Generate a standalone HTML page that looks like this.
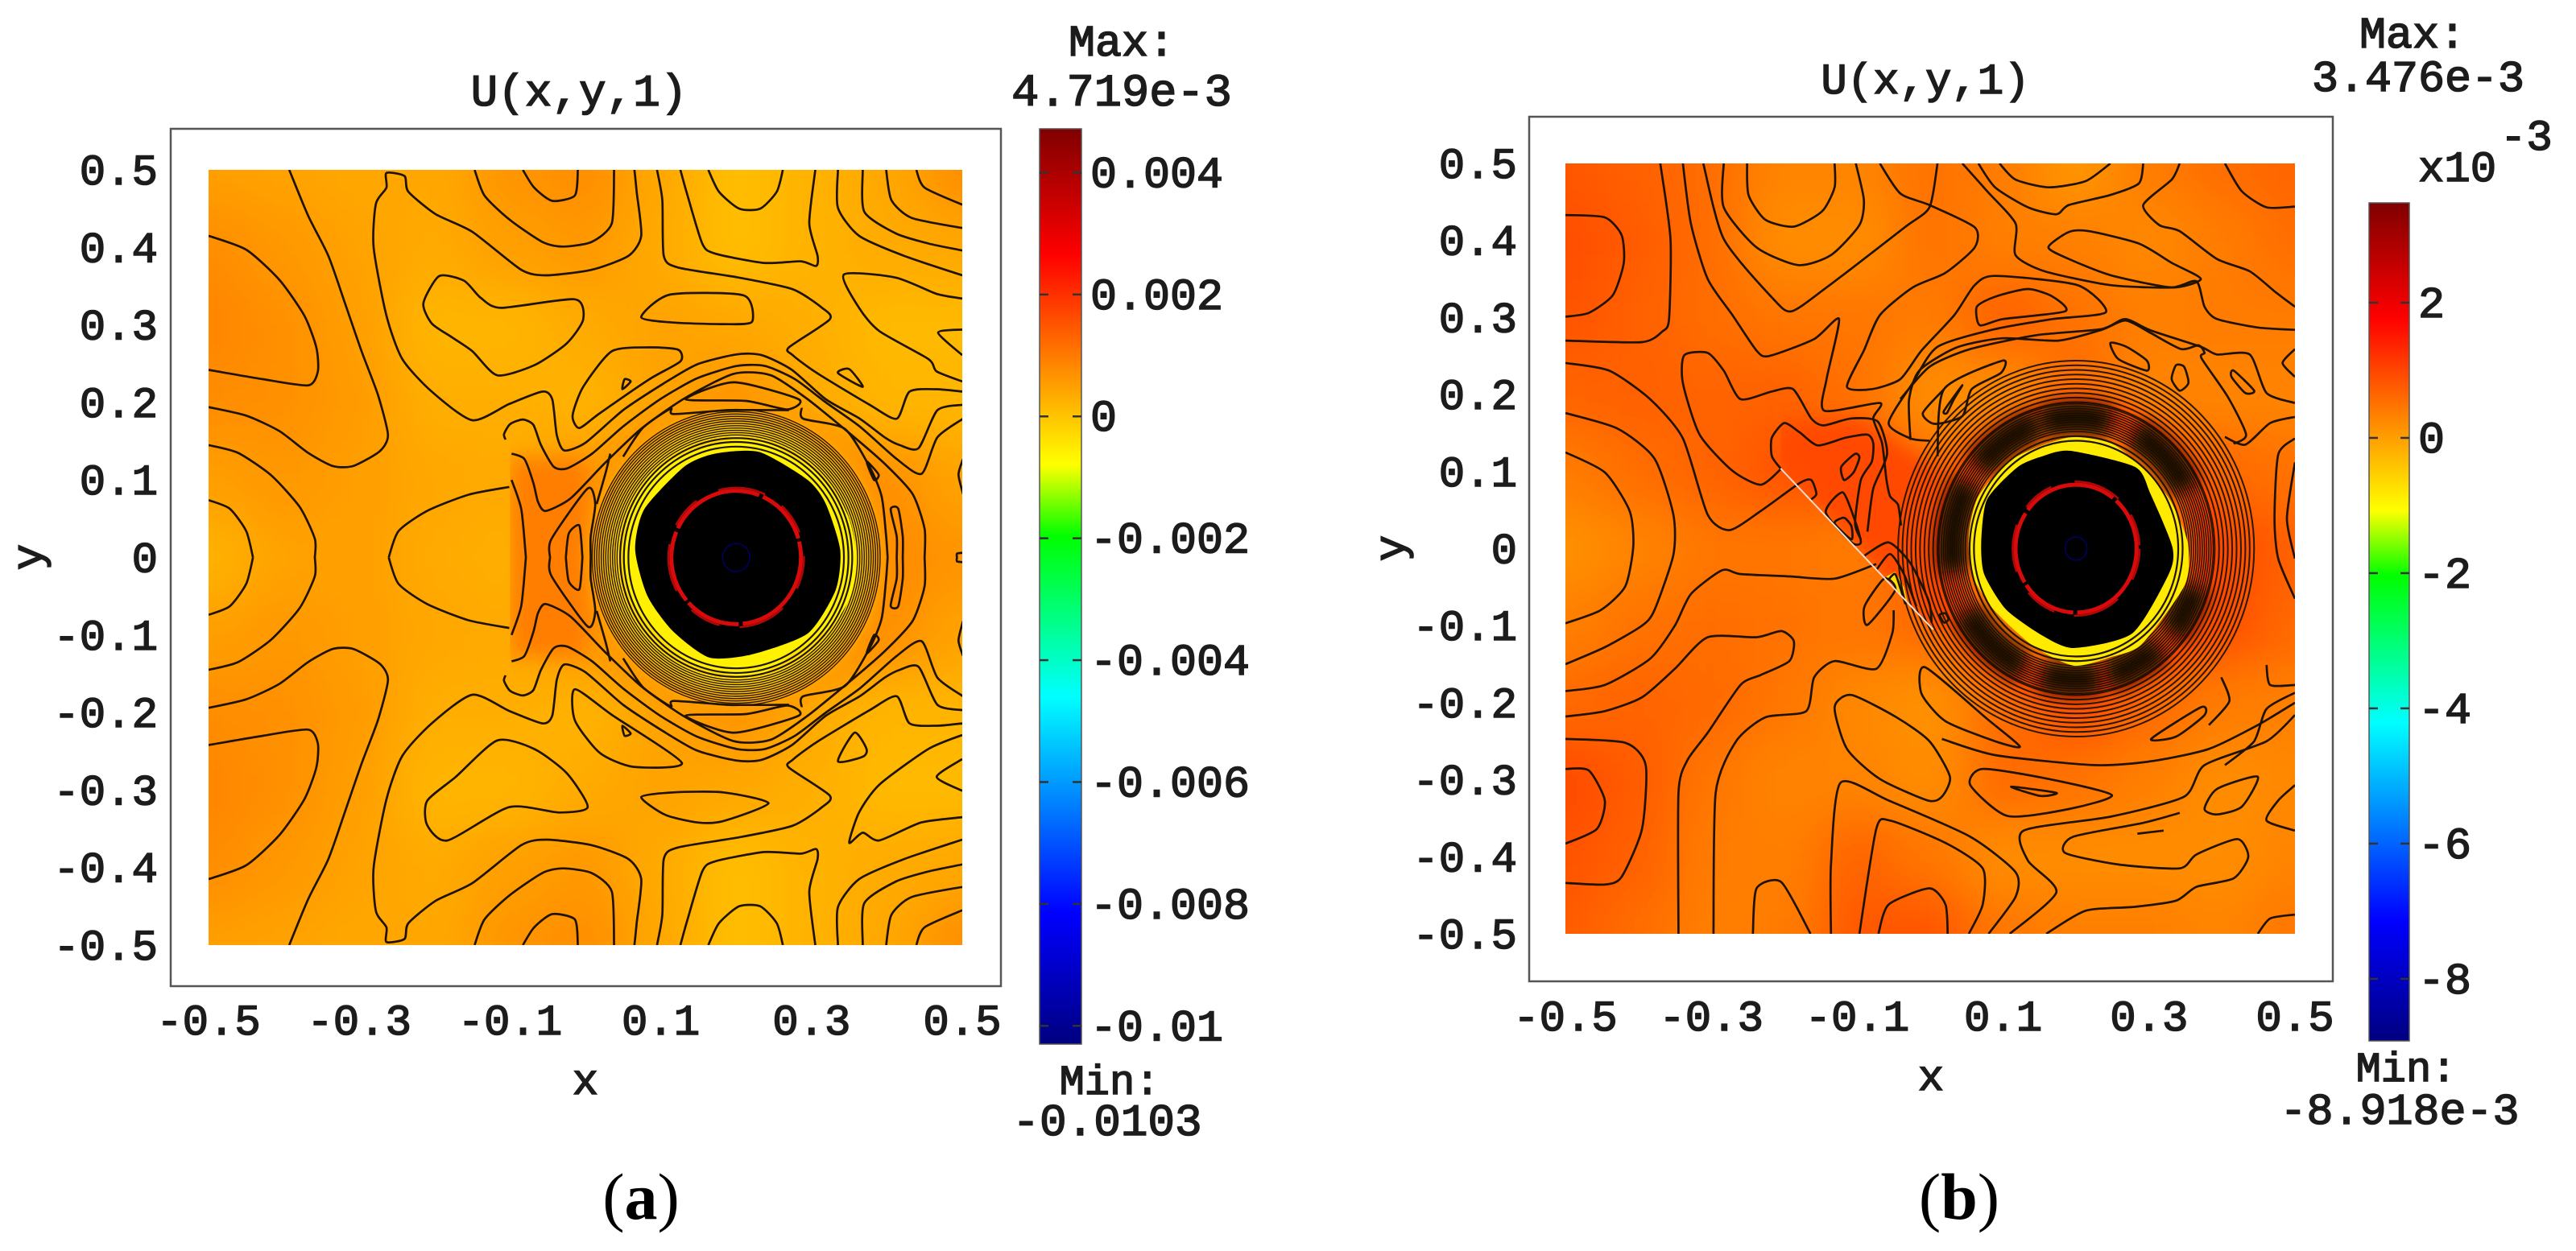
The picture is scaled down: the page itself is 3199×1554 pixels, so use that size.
<!DOCTYPE html>
<html lang="en">
<head>
<meta charset="utf-8">
<title>U(x,y,1) contour plots</title>
<style>
html,body{margin:0;padding:0;background:#fff;width:3199px;height:1554px;overflow:hidden}
svg{display:block}
text{font-family:"Liberation Mono",monospace;font-weight:normal;fill:#1c1c1c;stroke:#1c1c1c;stroke-width:1.6}
.cap{font-family:"Liberation Serif",serif;font-weight:normal;fill:#000;stroke:none}
</style>
</head>
<body>
<svg id="root" xmlns="http://www.w3.org/2000/svg" width="3199" height="1554" viewBox="0 0 3199 1554">
<defs id="defs"></defs>

<g id="panel-a">
  <rect x="212" y="160" width="1031" height="1065" fill="#fff" stroke="#555" stroke-width="2.5"/>
  <g id="plot-a"></g>
  <text x="719" y="131" font-size="56" text-anchor="middle">U(x,y,1)</text>
  <text x="727" y="1359" font-size="54" text-anchor="middle">x</text>
  <text transform="translate(52,692) rotate(-90)" font-size="54" text-anchor="middle">y</text>
  <text x="1393" y="69" font-size="55" text-anchor="middle">Max:</text>
  <text x="1393" y="131" font-size="57" text-anchor="middle">4.719e-3</text>
  <text x="1378" y="1359" font-size="52" text-anchor="middle">Min:</text>
  <text x="1375" y="1410" font-size="56" text-anchor="middle">-0.0103</text>
  <text class="cap" x="796" y="1514" font-size="82" text-anchor="middle">(<tspan font-weight="bold">a</tspan>)</text>
</g>

<g id="panel-b">
  <rect x="1899" y="145" width="998" height="1074" fill="#fff" stroke="#555" stroke-width="2.5"/>
  <g id="plot-b"></g>
  <text x="2391" y="116" font-size="54" text-anchor="middle">U(x,y,1)</text>
  <text x="2398" y="1354" font-size="54" text-anchor="middle">x</text>
  <text transform="translate(1744,681) rotate(-90)" font-size="54" text-anchor="middle">y</text>
  <text x="2996" y="59" font-size="55" text-anchor="middle">Max:</text>
  <text x="3003" y="113" font-size="55" text-anchor="middle">3.476e-3</text>
  <text x="3003" y="225" font-size="54">x10</text>
  <text x="3105" y="186" font-size="54">-3</text>
  <text x="2988" y="1343" font-size="52" text-anchor="middle">Min:</text>
  <text x="2980" y="1396" font-size="55" text-anchor="middle">-8.918e-3</text>
  <text class="cap" x="2433" y="1514" font-size="82" text-anchor="middle">(<tspan font-weight="bold">b</tspan>)</text>
</g>
</svg>

<script>
// ---------- colormap (position along bar, colour) ----------
const cmapPos = [0, .143, .38, .555, .633, .862, 1];
const cmapRGB = [[0,0,128],[0,0,255],[0,255,255],[0,255,0],[255,255,0],[255,0,0],[128,0,0]];

// ---------- shared axes ----------
const xTicks = [-.5,-.3,-.1,.1,.3,.5];
const xTickLabels = ['-0.5','-0.3','-0.1','0.1','0.3','0.5'];
const yTicks = [.5,.4,.3,.2,.1,0,-.1,-.2,-.3,-.4,-.5];
const yTickLabels = ['0.5','0.4','0.3','0.2','0.1','0','-0.1','-0.2','-0.3','-0.4','-0.5'];
const gridX = [-.5,-.4,-.3,-.2,-.1,0,.1,.2,.3,.4,.5];
const gridY = [.5,.4,.3,.2,.1,0,-.1,-.2,-.3,-.4,-.5];
const discCenter = [.2,0];

// ---------- panel a: colour bar ----------
const barTicksA = [4,2,0,-2,-4,-6,-8,-10];
const barLabelsA = ['0.004','0.002','0','-0.002','-0.004','-0.006','-0.008','-0.01'];

// ---------- panel a: field values (x 1e-3) ----------
const fieldA = [
[.5,.45,.4,.4,.65,.75,.4,.1,.25,.4,.75],
[.75,.6,.45,.35,.5,.6,.35,.1,.25,.35,.4],
[.85,.7,.5,.2,.2,.35,.45,.4,.3,.15,.15],
[.75,.7,.55,.3,.3,.25,.45,.65,.35,.2,.2],
[.5,.6,.5,.4,.35,.6,.8,1,.9,.7,.45],
[.25,.45,.5,.35,.3,.7,1,1,1,.8,.65],
[.5,.6,.5,.4,.35,.6,.8,1,.9,.7,.45],
[.75,.7,.55,.3,.3,.25,.45,.65,.35,.2,.2],
[.85,.7,.5,.2,.2,.35,.45,.4,.3,.15,.15],
[.75,.6,.45,.35,.5,.6,.35,.1,.25,.35,.4],
[.5,.45,.4,.4,.65,.75,.4,.1,.25,.4,.75]
];
const patchShapeA = [[-.1,.128],[0,.128],[.02,0],[0,-.128],[-.1,-.128]];
const patchValueA = .95;
const patchClipA = [[-.1,.25],[.2,.25],[.2,-.25],[-.1,-.25]];

// ---------- panel a: disc ----------
const bandsA = [[.2,.6],[.188,.3],[.175,-.1],[.165,-.4]];
const yellowOutlineA = [[.242,.148],[.311,.107],[.348,.055],[.36,0],[.352,-.049],[.328,-.087],[.274,-.125],[.225,-.153],[.152,-.142],[.099,-.104],[.062,-.056],[.05,0],[.058,.055],[.086,.107],[.139,.138],[.201,.152]];
const yellowValueA = -.6;
const blackOutlineA = [[.231,.136],[.295,.1],[.319,.069],[.338,.01],[.332,-.042],[.295,-.098],[.221,-.125],[.164,-.129],[.115,-.094],[.082,-.049],[.066,.01],[.078,.062],[.131,.117],[.172,.134]];
const ringsOuterA = [.158,.161,.164,.167,.17,.173,.176,.179,.182,.185,.188,.191];
const ringsDarkA = [];
const darkArcsA = [];
const ringsInnerA = [.143,.149,.154];
const redRingA = [.086];
const blueRingA = [.018];

// ---------- panel a: contour lines (x,y) ----------
const contoursASym = [
[[-.5,.415],[-.45,.397],[-.406,.358],[-.373,.312],[-.357,.271],[-.355,.24],[-.368,.222],[-.428,.23],[-.5,.242]],
[[-.393,.5],[-.368,.441],[-.341,.389],[-.319,.328],[-.297,.266],[-.275,.209],[-.262,.158],[-.273,.137],[-.308,.118],[-.335,.118],[-.368,.135],[-.406,.163],[-.45,.183],[-.5,.194]],
[[-.5,.145],[-.461,.135],[-.417,.106],[-.379,.065],[-.359,.024],[-.359,0]],
[[-.5,.074],[-.472,.063],[-.45,.034],[-.441,0]],
[[-.101,.091],[-.155,.081],[-.21,.06],[-.248,.034],[-.261,0]],
[[.065,.5],[.068,.472],[.074,.415],[.057,.389],[.008,.371],[-.052,.364],[-.085,.371],[-.15,.42],[-.199,.443],[-.235,.472],[-.24,.492],[-.264,.496],[-.264,.477],[-.278,.456],[-.281,.4],[-.264,.312],[-.243,.256],[-.204,.214],[-.15,.177],[-.101,.198],[-.057,.214],[-.044,.204],[-.038,.158],[-.028,.138],[0,.148],[.05,.19],[.103,.224],[.148,.249],[.201,.262],[.234,.261],[.274,.242],[.319,.204],[.364,.179],[.397,.155],[.417,.145],[.442,.141],[.467,.19],[.501,.197]],
[[.095,.5],[.102,.461],[.104,.389],[.123,.374],[.204,.361],[.275,.346],[.314,.322],[.324,.307],[.27,.271],[.275,.261],[.307,.238],[.377,.197],[.413,.179],[.43,.214],[.466,.217],[.5,.214]],
[[-.106,.152],[-.108,.159],[-.1,.172],[-.083,.178],[-.069,.171],[-.059,.145],[-.042,.117],[-.024,.115],[.009,.134],[.05,.169],[.099,.204],[.148,.231],[.201,.247],[.238,.247],[.278,.23],[.319,.2],[.364,.169],[.413,.127],[.446,.108],[.467,.155],[.501,.179]],
[[-.098,.134],[-.081,.127],[-.069,.096],[-.063,.072],[-.053,.06],[-.02,.076],[.025,.121],[.074,.166],[.131,.205],[.197,.237],[.246,.235],[.295,.204],[.352,.159],[.397,.121],[.434,.082],[.45,.037],[.45,0]],
[[-.047,0],[-.045,.024],[.003,.089],[.013,.069],[.007,.027],[.007,0]],
[[-.026,0],[-.022,.031],[-.008,.041],[-.004,0]],
[[-.098,.1],[-.085,.062],[-.079,0]],
[[.033,.134],[.027,.11],[.015,.069]],
[[.413,0],[.413,.027],[.405,.062],[.415,.063],[.421,.027],[.421,0]],
[[.133,.204],[.197,.226],[.283,.204],[.268,.191],[.213,.202],[.133,.204]],
[[.287,.193],[.289,.179],[.344,.166],[.377,.117],[.393,.079],[.399,.027],[.401,0]],
[[.05,.13],[.076,.167],[.113,.192],[.117,.185],[.19,.19],[.27,.19]],
[[.373,.124],[.389,.107],[.383,.1],[.373,.124]],
[[.501,.127],[.495,.107],[.501,.082]],
[[.501,.006],[.493,.005],[.493,0]],
[[-.147,.5],[-.134,.467],[-.101,.436],[-.057,.407],[-.03,.401],[.008,.407],[.035,.431],[.038,.5]],
[[-.083,.5],[-.068,.477],[-.044,.46],[-.014,.467],[-.01,.5]],
[[.126,.5],[.134,.472],[.155,.405],[.172,.392],[.237,.38],[.286,.382],[.306,.376],[.308,.389],[.297,.431],[.305,.5]],
[[.163,.5],[.177,.472],[.204,.45],[.232,.45],[.254,.472],[.262,.5]],
[[.335,.5],[.335,.451],[.363,.415],[.423,.389],[.5,.364]],
[[.368,.5],[.37,.446],[.412,.418],[.455,.405],[.5,.396]],
[[.399,.5],[.406,.461],[.433,.438],[.5,.425]],
[[.439,.5],[.45,.477],[.5,.455]],
[[.052,.23],[.06,.227],[.049,.217],[.052,.23]]
];
const contoursATop = [
[[-.194,.363],[-.161,.357],[-.139,.335],[-.112,.322],[-.014,.333],[-.003,.307],[-.025,.276],[-.068,.248],[-.117,.235],[-.15,.266],[-.177,.284],[-.204,.302],[-.215,.328],[-.194,.363]],
[[.074,.31],[.112,.339],[.21,.338],[.221,.304],[.183,.301],[.117,.303],[.074,.31]],
[[.5,.334],[.466,.34],[.412,.361],[.343,.365],[.363,.322],[.39,.292],[.455,.256],[.466,.24],[.5,.227]],
[[.5,.294],[.468,.29],[.5,.261]],
[[.335,.238],[.35,.243],[.368,.22],[.335,.238]],
[[.035,.266],[.085,.271],[.123,.268],[.126,.253],[.085,.23],[.019,.186],[-.008,.167],[-.017,.183],[-.003,.22],[.035,.266]]
];
const contoursABottom = [
[[-.117,-.236],[-.068,-.247],[-.025,-.278],[.003,-.322],[-.035,-.329],[-.101,-.322],[-.183,-.365],[-.21,-.345],[-.21,-.314],[-.172,-.283],[-.117,-.236]],
[[.074,-.309],[.117,-.303],[.183,-.303],[.243,-.317],[.183,-.34],[.15,-.342],[.106,-.332],[.074,-.309]],
[[.5,-.335],[.445,-.342],[.39,-.365],[.368,-.355],[.35,-.368],[.363,-.329],[.39,-.293],[.455,-.247],[.5,-.229]],
[[.5,-.26],[.466,-.283],[.5,-.301]],
[[.357,-.226],[.373,-.247],[.368,-.257],[.335,-.263],[.357,-.226]],
[[-.014,-.17],[.035,-.203],[.128,-.265],[.063,-.27],[.019,-.252],[-.014,-.21],[-.014,-.17]]
];

// ---------- panel b: colour bar ----------
const barTicksB = [2,0,-2,-4,-6,-8];
const barLabelsB = ['2','0','-2','-4','-6','-8'];

// ---------- panel b: field values (x 1e-3) ----------
const fieldB = [
[.8,.7,.55,.3,.3,.5,.4,.1,.4,.55,.65],
[.9,.75,.55,.2,.2,.5,.35,.35,.25,.4,.55],
[.85,.7,.55,.45,.45,.4,.7,.5,.35,.4,.4],
[.65,.7,.65,.7,.5,.2,.2,.6,.3,.3,.3],
[.4,.55,.65,.85,.85,.5,.7,1,.8,.6,.5],
[.15,.3,.45,.45,.4,.9,1,1,1,.95,.7],
[.35,.5,.55,.5,.45,.6,.95,1,1,.9,.6],
[.6,.65,.6,.45,.25,.15,.55,.9,.6,.4,.35],
[.95,.75,.45,.3,.3,.2,.6,.5,.35,.2,.25],
[.85,.7,.4,.35,.65,.45,.2,.2,.2,.2,.3],
[.75,.55,.35,.4,.8,.85,.45,.35,.35,.3,.45]
];
const patchShapeB = [[-.21,.11],[.004,-.11],[.03,-.1],[.02,.1],[-.1,.17],[-.21,.16]];
const patchValueB = .95;
const patchClipB = [[-.205,.104],[.004,-.105],[.25,-.105],[.25,.3],[-.205,.3]];
const lobeB = [[-.06,-.036],[-.048,-.03],[-.036,-.05],[-.03,-.075],[-.04,-.06]];
const lobeValueB = -.7;

// ---------- panel b: crack ----------
const crackB = [[-.205,.104],[.004,-.105]];

// ---------- panel b: disc ----------
const bandsB = [[.195,1.1],[.17,1.2],[.158,.3]];
const yellowOutlineB = [[.188,.144],[.247,.137],[.29,.106],[.328,.064],[.353,.008],[.349,-.047],[.29,-.124],[.247,-.141],[.197,-.152],[.142,-.127],[.087,-.079],[.057,-.033],[.053,.019],[.066,.068],[.112,.116]];
const yellowValueB = -.85;
const blackOutlineB = [[.192,.127],[.281,.106],[.302,.071],[.332,.002],[.327,-.033],[.277,-.11],[.197,-.129],[.154,-.113],[.104,-.079],[.074,-.033],[.07,.009],[.078,.064],[.12,.106],[.154,.12]];
const ringsOuterB = [.19,.196,.202,.208,.214,.22,.226,.232,.238,.244];
const ringsDarkB = [.152,.155,.158,.161,.164,.167,.17,.173,.176,.179,.182,.185,.188];
const darkArcsB = [[75,105],[28,62],[-40,-18],[-75,-50],[-105,-80],[-150,-115],[150,190],[108,140]];
const ringsInnerB = [.14,.146];
const redRingB = [.083];
const blueRingB = [.015];

// ---------- panel b: contour lines (x,y) ----------
const contoursB = [
[[-.5,.433],[-.446,.43],[-.423,.407],[-.42,.371],[-.435,.329],[-.468,.306],[-.5,.301]],
[[-.37,.5],[-.356,.402],[-.358,.298],[-.367,.282],[-.395,.268],[-.5,.27]],
[[-.339,.5],[-.328,.422],[-.305,.35],[-.271,.303],[-.238,.257],[-.221,.25],[-.159,.272],[-.125,.298],[-.142,.22],[-.145,.179],[-.069,.189],[-.078,.169],[-.066,.137],[-.06,.09],[-.055,.068],[-.044,.057],[-.04,.03]],
[[-.311,.5],[-.283,.402],[-.215,.324],[-.19,.308],[-.142,.339],[-.035,.417],[-.001,.443],[.01,.5]],
[[-.283,.5],[-.283,.443],[-.238,.391],[-.181,.368],[-.136,.381],[-.097,.42],[-.091,.453],[-.102,.5]],
[[-.251,.5],[-.249,.459],[-.226,.427],[-.187,.418],[-.148,.438],[-.131,.469],[-.131,.5]],
[[-.069,.5],[-.041,.461],[-.001,.446],[.061,.417],[.061,.391],[.021,.358],[-.024,.339],[-.069,.303],[-.091,.257],[-.114,.21],[-.08,.207],[-.041,.22],[-.012,.257],[.033,.303],[.061,.342],[.089,.354],[.202,.342],[.241,.307],[.168,.298],[.089,.285],[.01,.262],[-.024,.215],[-.057,.163],[-.027,.143],[-.001,.14]],
[[-.027,.141],[-.029,.193],[-.015,.231],[.036,.261],[.099,.273],[.176,.27],[.235,.284],[.268,.296],[.302,.28],[.344,.259],[.368,.264],[.376,.254],[.372,.247],[.408,.197],[.433,.148],[.416,.136]],
[[.044,.5],[.078,.464],[.117,.422],[.117,.381],[.157,.36],[.247,.342],[.331,.339],[.365,.347],[.376,.314],[.393,.298],[.449,.287],[.5,.284]],
[[.066,.5],[.089,.469],[.134,.443],[.173,.434],[.19,.446],[.247,.459],[.286,.474],[.292,.5]],
[[.095,.5],[.117,.479],[.162,.469],[.213,.477],[.247,.5]],
[[.342,.5],[.331,.479],[.292,.446],[.314,.42],[.342,.412],[.393,.376],[.438,.36],[.472,.334],[.5,.314]],
[[.404,.5],[.427,.464],[.461,.443],[.5,.444]],
[[.162,.391],[.19,.411],[.218,.412],[.286,.396],[.331,.371],[.371,.35],[.331,.339],[.247,.355],[.19,.376],[.162,.391]],
[[.064,.314],[.089,.327],[.134,.337],[.168,.327],[.185,.308],[.1,.298],[.068,.29],[.064,.314]],
[[-.041,.194],[-.001,.236],[.055,.259],[.145,.277],[.235,.285],[.267,.298],[.303,.283],[.371,.262],[.393,.252],[.438,.252],[.461,.202],[.5,.189]],
[[.5,.259],[.483,.241],[.5,.223]],
[[.247,.267],[.269,.262],[.297,.244],[.297,.231],[.258,.246],[.247,.267]],
[[.337,.238],[.348,.236],[.354,.215],[.342,.205],[.331,.22],[.337,.238]],
[[.416,.231],[.444,.205],[.432,.202],[.413,.223],[.416,.231]],
[[.5,.171],[.466,.163],[.432,.135],[.404,.145]],
[[.5,.143],[.477,.122],[.472,.039],[.477,-.013],[.5,-.065]],
[[.5,.112],[.489,.039],[.5,-.013]],
[[-.5,.125],[-.446,.099],[-.412,.049],[-.407,.003],[-.418,-.049],[-.452,-.08],[-.5,-.097]],
[[-.5,.176],[-.429,.156],[-.378,.117],[-.352,.044],[-.352,-.008],[-.378,-.08],[-.395,-.1],[-.446,-.128],[-.5,-.15]],
[[-.5,.241],[-.44,.231],[-.384,.194],[-.339,.143],[-.305,.044],[-.275,.024],[-.232,.049],[-.179,.085],[-.163,.089],[-.156,.071],[-.163,.064]],
[[-.074,-.02],[-.131,-.039],[-.193,-.036],[-.26,-.033],[-.285,-.028],[-.328,-.059],[-.35,-.1],[-.384,-.143],[-.446,-.177],[-.5,-.185]],
[[-.5,-.218],[-.446,-.211],[-.395,-.193],[-.35,-.156],[-.305,-.115],[-.238,-.115],[-.204,-.107],[-.187,-.12],[-.193,-.146],[-.232,-.164],[-.26,-.177],[-.305,-.239],[-.333,-.275],[-.345,-.317],[-.345,-.5]],
[[-.297,-.5],[-.294,-.317],[-.266,-.25],[-.226,-.219],[-.17,-.211],[-.159,-.167],[-.131,-.146],[-.074,-.156],[-.052,-.11],[-.05,-.08]],
[[-.243,-.5],[-.238,-.441],[-.204,-.433],[-.164,-.5]],
[[-.136,-.5],[-.136,-.41],[-.123,-.304],[-.057,-.327],[.055,-.374],[.117,-.42],[.117,-.452],[.08,-.5]],
[[-.097,-.5],[-.074,-.364],[-.055,-.353],[.021,-.382],[.072,-.415],[.072,-.462],[.053,-.5]],
[[-.071,-.5],[-.057,-.462],[-.001,-.441],[.021,-.462],[.024,-.5]],
[[.109,-.5],[.173,-.446],[.134,-.405],[.128,-.366],[.247,-.348],[.348,-.322],[.376,-.281],[.461,-.25],[.5,-.216]],
[[.159,-.5],[.213,-.47],[.28,-.465],[.337,-.457],[.365,-.439],[.416,-.428],[.436,-.4],[.421,-.377],[.365,-.397],[.342,-.415],[.258,-.41],[.185,-.395],[.196,-.374],[.292,-.356],[.342,-.343]],
[[.284,-.37],[.32,-.366]],
[[.449,-.296],[.427,-.335],[.393,-.345],[.376,-.338],[.393,-.312],[.449,-.296]],
[[.5,-.307],[.477,-.327],[.461,-.353],[.5,-.366]],
[[.5,-.475],[.466,-.48],[.449,-.5]],
[[-.5,-.247],[-.418,-.252],[-.39,-.281],[-.395,-.364],[-.423,-.426],[-.446,-.436],[-.5,-.434]],
[[-.5,-.286],[-.468,-.288],[-.446,-.327],[-.457,-.364],[-.5,-.383]],
[[.072,-.286],[.162,-.299],[.249,-.32],[.19,-.338],[.106,-.347],[.055,-.307],[.072,-.286]],
[[.111,-.309],[.173,-.317],[.151,-.321],[.111,-.309]],
[[-.108,-.19],[-.046,-.219],[-.001,-.25],[.027,-.296],[.016,-.322],[-.003,-.327],[-.069,-.299],[-.114,-.26],[-.131,-.206],[-.108,-.19]],
[[.016,-.247],[.089,-.268],[.224,-.281],[.303,-.276],[.382,-.26],[.449,-.229],[.5,-.2]],
[[-.007,-.154],[.078,-.221],[.123,-.257],[.089,-.25],[.021,-.224],[-.012,-.188],[-.007,-.154]],
[[.303,-.247],[.371,-.206],[.376,-.216],[.337,-.244],[.303,-.247]],
[[.399,-.167],[.41,-.198],[.382,-.229]],
[[.5,-.177],[.466,-.177],[.461,-.151]],
[[.5,-.187],[.461,-.208],[.444,-.25],[.404,-.281]],
[[-.204,.104],[-.232,.083],[-.271,.101],[-.316,.148],[-.339,.215],[-.337,.251],[-.305,.254],[-.283,.231],[-.26,.194],[-.217,.204],[-.188,.207],[-.163,.169],[-.146,.16],[-.108,.169],[-.072,.165],[-.059,.123],[-.078,.078],[-.086,.022]],
[[-.205,.104],[-.217,.12],[-.217,.144],[-.2,.163],[-.179,.151],[-.154,.134],[-.116,.144],[-.086,.148],[-.078,.137],[-.08,.113],[-.095,.089],[-.103,.033],[-.095,.012]],
[[-.122,.106],[-.103,.123],[-.097,.118],[-.105,.099],[-.118,.089],[-.122,.106]],
[[-.12,.073],[-.143,.047],[-.108,.008],[-.095,.008],[-.103,.036],[-.12,.073]],
[[-.131,.033],[-.118,.04],[-.108,.029],[-.108,.012],[-.131,.033]],
[[-.09,-.009],[-.057,.008],[-.027,-.019],[-.002,-.068],[.002,-.096]],
[[-.074,-.028],[-.055,-.007],[-.036,-.033],[-.019,-.075]],
[[-.057,-.04],[-.048,-.033],[-.04,-.054],[-.034,-.072]],
[[-.09,-.075],[-.086,-.099],[-.048,-.054],[-.063,-.039],[-.09,-.075]],
[[.013,-.086],[.021,-.084],[.025,-.092],[.019,-.096],[.013,-.086]],
[[.01,.12],[.019,.207],[.099,.244],[.097,.228],[.057,.207],[.044,.172],[.006,.162],[-.01,.176],[.019,.207]],
[[.019,.179],[.044,.212],[.032,.193],[.023,.176],[.019,.179]]
];

// ---------- rendering ----------
const NS = 'http://www.w3.org/2000/svg';
const defs = document.getElementById('defs');
function mk(tag, attrs, parent){
  const e = document.createElementNS(NS, tag);
  for (const k in attrs) e.setAttribute(k, attrs[k]);
  if (parent) parent.appendChild(e);
  return e;
}
function cmap(t){
  t = Math.max(0, Math.min(1, t));
  for (let i = 1; i < cmapPos.length; i++){
    if (t <= cmapPos[i]){
      const f = (t - cmapPos[i-1]) / (cmapPos[i] - cmapPos[i-1]);
      const a = cmapRGB[i-1], b = cmapRGB[i];
      return 'rgb(' + [0,1,2].map(j => Math.round(a[j] + (b[j]-a[j])*f)).join(',') + ')';
    }
  }
  return 'rgb(128,0,0)';
}
// smooth curve through screen points (Catmull-Rom)
function curve(P, closed){
  const n = P.length, k = .7 / 6;
  const at = i => closed ? P[(i + n) % n] : P[Math.max(0, Math.min(n - 1, i))];
  let d = 'M' + P[0][0].toFixed(1) + ' ' + P[0][1].toFixed(1);
  const segs = closed ? n : n - 1;
  for (let i = 0; i < segs; i++){
    const p0 = at(i-1), p1 = at(i), p2 = at(i+1), p3 = at(i+2);
    d += 'C' + (p1[0] + (p2[0]-p0[0])*k).toFixed(1) + ' ' + (p1[1] + (p2[1]-p0[1])*k).toFixed(1) + ' ' +
         (p2[0] - (p3[0]-p1[0])*k).toFixed(1) + ' ' + (p2[1] - (p3[1]-p1[1])*k).toFixed(1) + ' ' +
         p2[0].toFixed(1) + ' ' + p2[1].toFixed(1);
  }
  return d + (closed ? 'Z' : '');
}

function drawPanel(p){
  const g = document.getElementById(p.group);
  const sx = x => p.x0 + (x + .5) * (p.x1 - p.x0);
  const sy = y => p.y0 + (.5 - y) * (p.y1 - p.y0);
  const by = v => p.by0 + (p.vmax - v) / (p.vmax - p.vmin) * (p.by1 - p.by0);
  const col = v => cmap((v - p.vmin) / (p.vmax - p.vmin));
  const pts = (list, my) => list.map(q => sx(q[0]).toFixed(1) + ',' + sy(q[1] * (my || 1)).toFixed(1)).join(' ');
  const scr = (list, my) => list.map(q => [sx(q[0]), sy(q[1] * (my || 1))]);

  const clip = mk('clipPath', {id:'clip-' + p.id}, defs);
  mk('rect', {x:p.x0, y:p.y0, width:p.x1-p.x0, height:p.y1-p.y0}, clip);
  const blur = mk('filter', {id:'blur-' + p.id, filterUnits:'userSpaceOnUse', x:0, y:0, width:3199, height:1554}, defs);
  mk('feGaussianBlur', {stdDeviation:30}, blur);
  const blur2 = mk('filter', {id:'blur2-' + p.id, filterUnits:'userSpaceOnUse', x:0, y:0, width:3199, height:1554}, defs);
  mk('feGaussianBlur', {stdDeviation:12}, blur2);
  const blur3 = mk('filter', {id:'blur3-' + p.id, filterUnits:'userSpaceOnUse', x:0, y:0, width:3199, height:1554}, defs);
  mk('feGaussianBlur', {stdDeviation:9}, blur3);
  const pclip = mk('clipPath', {id:'pclip-' + p.id}, defs);
  mk('polygon', {points:pts(p.patchClip)}, pclip);

  const plot = mk('g', {'clip-path':'url(#clip-' + p.id + ')'}, g);

  // heatmap cells
  const heat = mk('g', {filter:'url(#blur-' + p.id + ')'}, plot);
  const cw = (p.x1 - p.x0) * .1, ch = (p.y1 - p.y0) * .1;
  p.field.forEach((row, j) => row.forEach((v, i) => {
    const ex = (i === 0 ? 1 : 0) * cw * 1.5, ey = (j === 0 ? 1 : 0) * ch * 1.5;
    const ex2 = (i === row.length - 1 ? 1 : 0) * cw * 1.5, ey2 = (j === p.field.length - 1 ? 1 : 0) * ch * 1.5;
    const r = mk('rect', {
      x: sx(gridX[i]) - cw/2 - ex, y: sy(gridY[j]) - ch/2 - ey,
      width: cw + 1 + ex + ex2, height: ch + 1 + ey + ey2, fill: col(v)
    }, heat);
    
    
  }));

  // discontinuity patch
  const pg = mk('g', {'clip-path':'url(#pclip-' + p.id + ')'}, plot);
  const patch = mk('polygon', {points:pts(p.patchShape), fill:col(p.patchValue), filter:'url(#blur2-' + p.id + ')'}, pg);
  
  
  if (p.lobe){
    const lobe = mk('polygon', {points:pts(p.lobe), fill:col(p.lobeValue)}, pg);
    
    
  }

  // disc bands
  const cx = sx(discCenter[0]), cy = sy(discCenter[1]);
  const rx = r => r * (p.x1 - p.x0), ry = r => r * (p.y1 - p.y0);
  p.bands.forEach(b => {
    const e = mk('ellipse', {cx:cx, cy:cy, rx:rx(b[0]), ry:ry(b[0]), fill:col(b[1]), filter:'url(#blur2-' + p.id + ')', opacity:.9}, plot);
    
    
  });

  const ring = (r, stroke, w, dash) => {
    const e = mk('ellipse', {cx:cx, cy:cy, rx:rx(r), ry:ry(r), fill:'none', stroke:stroke, 'stroke-width':w}, plot);
    if (dash) e.setAttribute('stroke-dasharray', dash);
    
    
    return e;
  };
  p.ringsOuter.forEach(r => ring(r, '#2a1800', p.ringWidth));
  p.ringsDark.forEach(r => ring(r, '#2a1200', 1.5));
  // soft darker patches of the dense band
  const arcs = mk('g', {filter:'url(#blur3-' + p.id + ')'}, plot);
  p.ringsDark.forEach(r => p.darkArcs.forEach(a => {
    const e = mk('ellipse', {cx:cx, cy:cy, rx:rx(r), ry:ry(r), fill:'none', stroke:'#120800', 'stroke-width':2.8, pathLength:360}, arcs);
    const len = a[1] - a[0];
    e.setAttribute('stroke-dasharray', len + ' ' + (360 - len));
    e.setAttribute('stroke-dashoffset', -(360 - a[1]));
    
    
  }));

  const yellow = mk('path', {d:curve(scr(p.yellow), true), fill:col(p.yellowValue)}, plot);
  
  
  p.ringsInner.forEach(r => ring(r, '#201400', 2.2));
  const black = mk('path', {d:curve(scr(p.black), true), fill:'#000'}, plot);
  
  
  p.redRing.forEach(r => {
    ring(r, '#d80a0a', 5, '120 5 70 4 90 5');
    ring(r + .004, '#b00808', 2.5, '40 30 60 25');
  });
  p.blueRing.forEach(r => ring(r, '#000066', 1.5));

  // contour lines
  const line = (c, my) => {
    const P = scr(c, my);
    const first = c[0], last = c[c.length - 1];
    const closed = c.length > 3 && first[0] === last[0] && first[1] === last[1];
    if (closed) P.pop();
    const e = mk('path', {d:curve(P, closed), fill:'none', stroke:'#1f1300', 'stroke-width':2.7, 'stroke-linejoin':'round'}, plot);
    
    
  };
  p.contoursSym.forEach(c => { line(c, 1); line(c, -1); });
  p.contours.forEach(c => line(c, 1));

  // crack
  if (p.crack){
    const e = mk('line', {x1:sx(p.crack[0][0]), y1:sy(p.crack[0][1]), x2:sx(p.crack[1][0]), y2:sy(p.crack[1][1]), stroke:'#f7dccb', 'stroke-width':2}, plot);
    
    
  }

  // axis tick labels
  xTicks.forEach((v, i) => {
    const t = mk('text', {x:sx(v), y:p.xLabelY, 'font-size':54, 'text-anchor':'middle'}, g);
    t.textContent = xTickLabels[i];
    
    
  });
  yTicks.forEach((v, i) => {
    const t = mk('text', {x:p.yLabelX, y:sy(v) + 18, 'font-size':54, 'text-anchor':'end'}, g);
    t.textContent = yTickLabels[i];
    
    
  });

  // colour bar
  const grad = mk('linearGradient', {id:'bar-' + p.id, x1:0, y1:1, x2:0, y2:0}, defs);
  cmapPos.forEach((o, i) => mk('stop', {offset:o, 'stop-color':'rgb(' + cmapRGB[i].join(',') + ')'}, grad));
  const bar = mk('rect', {x:p.bx0, y:p.by0, width:p.bx1-p.bx0, height:p.by1-p.by0, fill:'url(#bar-' + p.id + ')', stroke:'#555', 'stroke-width':1.5}, g);
  
  
  p.barTicks.forEach((v, i) => {
    const y = by(v);
    const a = mk('line', {x1:p.bx0, x2:p.bx0 + 11, y1:y, y2:y, stroke:'#333', 'stroke-width':2.5}, g);
    
    
    const b = mk('line', {x1:p.bx1 - 11, x2:p.bx1, y1:y, y2:y, stroke:'#333', 'stroke-width':2.5}, g);
    
    
    const t = mk('text', {x:p.bx1 + p.barGap, y:y + 18, 'font-size':55}, g);
    t.textContent = p.barLabels[i];
    
    
  });
}

drawPanel({
  id:'a', group:'plot-a', x0:259, x1:1195, y0:211, y1:1174,
  vmin:-10.3, vmax:4.719, bx0:1291, bx1:1343, by0:160, by1:1297, barGap:11,
  xLabelY:1285, yLabelX:196, ringWidth:1.4,
  field:fieldA, patchShape:patchShapeA, patchValue:patchValueA, patchClip:patchClipA,
  bands:bandsA, yellow:yellowOutlineA, yellowValue:yellowValueA, black:blackOutlineA,
  ringsOuter:ringsOuterA, ringsDark:ringsDarkA, darkArcs:darkArcsA, ringsInner:ringsInnerA, redRing:redRingA, blueRing:blueRingA,
  contoursSym:contoursASym, contours:contoursATop.concat(contoursABottom),
  barTicks:barTicksA, barLabels:barLabelsA
});
drawPanel({
  id:'b', group:'plot-b', x0:1944, x1:2850, y0:203, y1:1160,
  vmin:-8.918, vmax:3.476, bx0:2942, bx1:2992, by0:252, by1:1293, barGap:11,
  xLabelY:1280, yLabelX:1884, ringWidth:2,
  field:fieldB, patchShape:patchShapeB, patchValue:patchValueB, patchClip:patchClipB,
  lobe:lobeB, lobeValue:lobeValueB, crack:crackB,
  bands:bandsB, yellow:yellowOutlineB, yellowValue:yellowValueB, black:blackOutlineB,
  ringsOuter:ringsOuterB, ringsDark:ringsDarkB, darkArcs:darkArcsB, ringsInner:ringsInnerB, redRing:redRingB, blueRing:blueRingB,
  contoursSym:[], contours:contoursB,
  barTicks:barTicksB, barLabels:barLabelsB
});
</script>
</body>
</html>
